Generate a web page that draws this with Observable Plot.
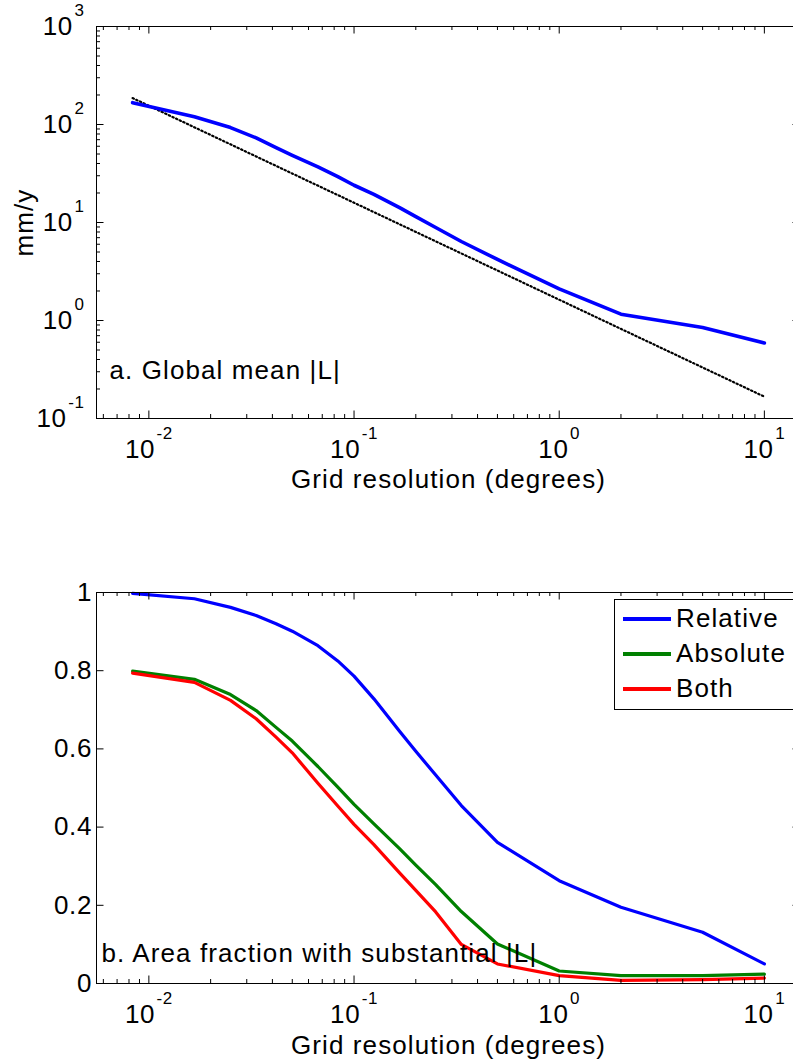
<!DOCTYPE html>
<html>
<head>
<meta charset="utf-8">
<script src="https://cdn.jsdelivr.net/npm/d3@7"></script>
<script src="https://cdn.jsdelivr.net/npm/@observablehq/plot@0.6"></script>
<style>
  html, body { margin: 0; padding: 0; overflow: hidden; background: #fff; }
  #wrap { position: relative; width: 802px; }
  #wrap svg { display: block; }
  .legend { position: absolute; left: 614px; top: 599px; width: 200px; height: 111px;
    border: 1px solid #000; background: #fff; box-sizing: border-box;
    font-family: "Liberation Sans", Arial, Helvetica, sans-serif; font-size: 26px; letter-spacing: 1.1px; color: #000; }
  .legend .sw { position: absolute; left: 8px; width: 48px; height: 3.5px; }
  .legend .lb { position: absolute; left: 61px; line-height: 30px; height: 30px; white-space: nowrap; }
</style>
</head>
<body>
<div id="wrap"></div>
<script>
// ---------------- data ----------------
const resolution = [1/120, 1/60, 1/40, 1/30, 1/24, 1/20, 1/15, 1/12, 1/10, 1/8, 1/6, 1/5, 1/4, 1/3, 1/2, 1, 2, 5, 10];
const meanAbsL   = [167, 120, 93, 73, 58, 48.5, 37, 29.4, 24.0, 19.4, 14.2, 11.5, 8.9, 6.4, 4.2, 2.1, 1.16, 0.85, 0.59];
const refLineX   = [1/120, 10];
const refLineY   = [186, 0.167];
const fracRelative = [0.998, 0.984, 0.962, 0.941, 0.920, 0.901, 0.864, 0.825, 0.786, 0.728, 0.645, 0.594, 0.533, 0.455, 0.361, 0.263, 0.195, 0.131, 0.050];
const fracAbsolute = [0.799, 0.778, 0.739, 0.698, 0.655, 0.620, 0.555, 0.502, 0.458, 0.408, 0.345, 0.303, 0.253, 0.184, 0.101, 0.032, 0.020, 0.020, 0.024];
const fracBoth     = [0.794, 0.770, 0.724, 0.677, 0.630, 0.590, 0.512, 0.454, 0.407, 0.355, 0.283, 0.238, 0.183, 0.100, 0.050, 0.020, 0.008, 0.010, 0.014];
const seriesNames  = ["Relative", "Absolute", "Both"];
const seriesColors = ["#0000ff", "#008000", "#ff0000"];
const xDomain = [1/180, 15];
const xTicksMajor = [0.01, 0.1, 1, 10];
const yDomainTop = [0.1, 1000];
const yTicksTop = [0.1, 1, 10, 100, 1000];
const yTicksBottom = [0, 0.2, 0.4, 0.6, 0.8, 1];
const yTickLabelsBottom = ["0", "0.2", "0.4", "0.6", "0.8", "1"];
const xLabel = "Grid resolution (degrees)";
const yLabelTop = "mm/y";
const panelA = "a. Global mean |L|";
const panelB = "b. Area fraction with substantial |L|";

// ---------------- helpers ----------------
const FONT = '"Liberation Sans", Arial, Helvetica, sans-serif';
const W = 802, ML = 96, MR = 2;
const PW = W - ML - MR;
const MAJ = 7.5, MIN = 4;

function logMinor(domain) {
  const out = [];
  const lo = Math.floor(Math.log10(domain[0])), hi = Math.ceil(Math.log10(domain[1]));
  for (let e = lo; e <= hi; e++) for (let m = 2; m <= 9; m++) {
    const v = m * Math.pow(10, e);
    if (v >= domain[0] && v <= domain[1]) out.push(v);
  }
  return out;
}
const xTicksMinor = logMinor(xDomain);
const yTicksTopMinor = logMinor(yDomainTop);

function boxTicks(ph, xMaj, xMin, yMaj, yMin) {
  const s = {stroke: "#000", strokeWidth: 1};
  const m = [
    Plot.tickX(xMaj, {x: d => d, insetTop: ph - MAJ, ...s}),
    Plot.tickX(xMaj, {x: d => d, insetBottom: ph - MAJ, ...s}),
    Plot.tickX(xMin, {x: d => d, insetTop: ph - MIN, ...s}),
    Plot.tickX(xMin, {x: d => d, insetBottom: ph - MIN, ...s}),
    Plot.tickY(yMaj, {y: d => d, insetRight: PW - MAJ, ...s}),
    Plot.tickY(yMaj, {y: d => d, insetLeft: PW - MAJ, ...s})
  ];
  if (yMin) {
    m.push(Plot.tickY(yMin, {y: d => d, insetRight: PW - MIN, ...s}));
    m.push(Plot.tickY(yMin, {y: d => d, insetLeft: PW - MIN, ...s}));
  }
  return m;
}

const pow10 = d => "10^" + Math.round(Math.log10(d));

function superscripts(svg) {
  d3.select(svg).selectAll("text").each(function () {
    const m = /^10\^(-?\d+)$/.exec(this.textContent);
    if (!m) return;
    const t = d3.select(this);
    t.text(null);
    t.append("tspan").text("10");
    t.append("tspan").attr("dx", 1.5).attr("dy", -18.5).attr("font-size", 17).text(m[1]);
  });
}

const svgStyle = {fontFamily: FONT, fontSize: "26px", letterSpacing: "0.6px", color: "#000", background: "transparent", overflow: "visible"};
const LABEL = {fontSize: 26};

// ---------------- panel a ----------------
const H1 = 530, MT1 = 26, MB1 = 112;
const PH1 = H1 - MT1 - MB1;
const topData = resolution.map((x, i) => ({x, y: meanAbsL[i]}));
const refData = refLineX.map((x, i) => ({x, y: refLineY[i]}));

const svgA = Plot.plot({
  width: W, height: H1,
  marginLeft: ML, marginRight: MR, marginTop: MT1, marginBottom: MB1,
  style: svgStyle,
  x: {type: "log", domain: xDomain},
  y: {type: "log", domain: yDomainTop},
  marks: [
    Plot.axisX({ticks: xTicksMajor, tickSize: 0, tickPadding: 21, tickFormat: pow10, label: null}),
    Plot.axisY({ticks: yTicksTop, tickSize: 0, tickPadding: 12, tickFormat: pow10, label: null}),
    Plot.line(refData, {x: "x", y: "y", stroke: "#000", strokeWidth: 2.2, strokeDasharray: "1.4,2.6"}),
    Plot.line(topData, {x: "x", y: "y", stroke: "#0000ff", strokeWidth: 3.6}),
    ...boxTicks(PH1, xTicksMajor, xTicksMinor, yTicksTop, yTicksTopMinor),
    Plot.frame({stroke: "#000", strokeWidth: 1}),
    Plot.text([xLabel], {text: d => d, frameAnchor: "bottom", lineAnchor: "bottom", dy: 69, ...LABEL}),
    Plot.text([yLabelTop], {text: d => d, frameAnchor: "left", rotate: -90, lineAnchor: "bottom", textAnchor: "middle", dx: -64, ...LABEL}),
    Plot.text([panelA], {text: d => d, frameAnchor: "bottom-left", textAnchor: "start", lineAnchor: "bottom", dx: 13, dy: -40, ...LABEL})
  ]
});
superscripts(svgA);

// ---------------- panel b ----------------
const H2 = 531, MT2 = 62, MB2 = 78;
const PH2 = H2 - MT2 - MB2;
const seriesValues = [fracRelative, fracAbsolute, fracBoth];
const bottomData = seriesNames.flatMap((s, k) => resolution.map((x, i) => ({series: s, x, y: seriesValues[k][i]})));

const svgB = Plot.plot({
  width: W, height: H2,
  marginLeft: ML, marginRight: MR, marginTop: MT2, marginBottom: MB2,
  style: svgStyle,
  x: {type: "log", domain: xDomain},
  y: {domain: [0, 1]},
  color: {domain: seriesNames, range: seriesColors},
  marks: [
    Plot.axisX({ticks: xTicksMajor, tickSize: 0, tickPadding: 21, tickFormat: pow10, label: null}),
    Plot.axisY({ticks: yTicksBottom, tickSize: 0, tickPadding: 4.5, tickFormat: d => yTickLabelsBottom[yTicksBottom.indexOf(d)], label: null}),
    Plot.line(bottomData, {x: "x", y: "y", z: "series", stroke: "series", strokeWidth: 3.2}),
    ...boxTicks(PH2, xTicksMajor, xTicksMinor, yTicksBottom, null),
    Plot.frame({stroke: "#000", strokeWidth: 1}),
    Plot.text([xLabel], {text: d => d, frameAnchor: "bottom", lineAnchor: "bottom", dy: 70, ...LABEL}),
    Plot.text([panelB], {text: d => d, frameAnchor: "bottom-left", textAnchor: "start", lineAnchor: "bottom", dx: 5, dy: -22, ...LABEL})
  ]
});
superscripts(svgB);

// labels use a slightly wider tracking than tick labels
[svgA, svgB].forEach(svg => d3.select(svg).selectAll("text")
  .filter(function () { return [xLabel, yLabelTop, panelA, panelB].includes(this.textContent); })
  .style("letter-spacing", "1.1px"));

const wrap = document.getElementById("wrap");
wrap.appendChild(svgA);
wrap.appendChild(svgB);

// ---------------- legend ----------------
const legend = document.createElement("div");
legend.className = "legend";
seriesNames.forEach((name, i) => {
  const cy = 19 + i * 35;
  const sw = document.createElement("div");
  sw.className = "sw";
  sw.style.top = (cy - 1.75) + "px";
  sw.style.background = seriesColors[i];
  const lb = document.createElement("div");
  lb.className = "lb";
  lb.style.top = (cy - 16) + "px";
  lb.textContent = name;
  legend.appendChild(sw);
  legend.appendChild(lb);
});
wrap.appendChild(legend);
</script>
</body>
</html>
